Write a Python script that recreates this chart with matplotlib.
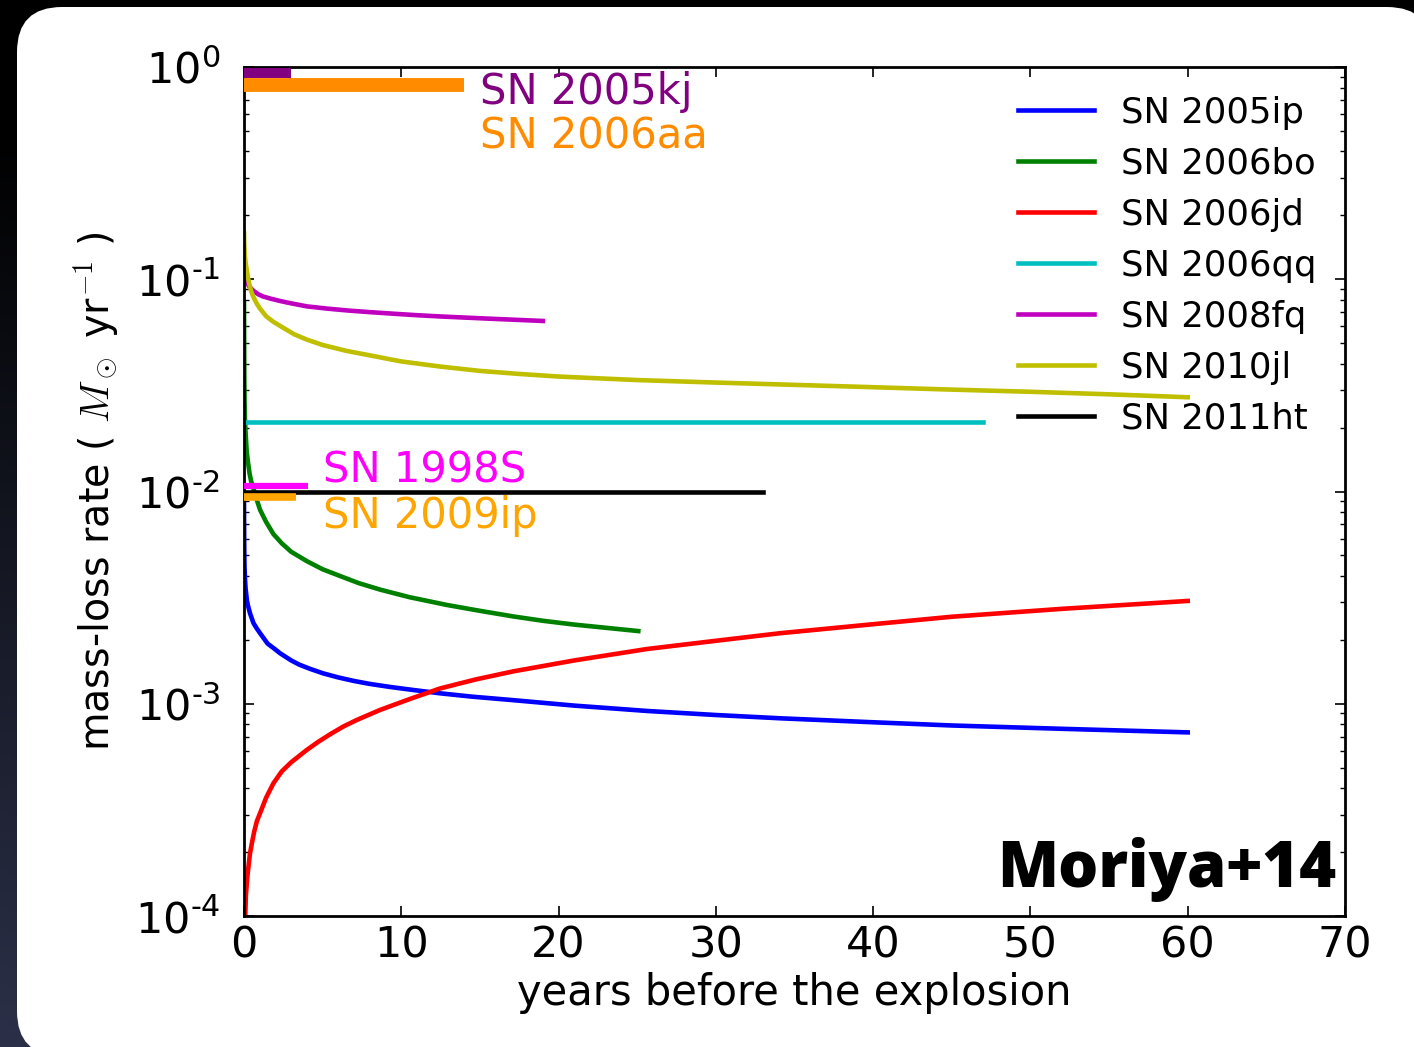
import numpy as np
import matplotlib
matplotlib.use('Agg')
import matplotlib.pyplot as plt
from matplotlib.patches import FancyBboxPatch
from matplotlib.transforms import IdentityTransform
from matplotlib.ticker import FuncFormatter, LogLocator, NullFormatter
from matplotlib.colors import LinearSegmentedColormap

plt.rcParams['font.family'] = ['DejaVu Sans']
plt.rcParams['axes.unicode_minus'] = False

# ---------------- data ----------------
ip05_t = [0.0, 0.01, 0.03, 0.06, 0.1, 0.2, 0.38, 0.6, 0.8, 1.02, 1.5, 2.0, 2.29, 3.0, 3.5, 4.2, 5.04, 6.0,
          7.0, 8.0, 9.28, 10.8, 12.46, 14.5, 17.1, 21, 25.6, 30, 34.1, 40, 45, 52, 60]
ip05_v = [0.0088, 0.006, 0.0045, 0.0039, 0.0035, 0.003, 0.00267, 0.0024, 0.00227, 0.00215, 0.00192, 0.0018,
          0.00173, 0.0016, 0.00153, 0.00146, 0.00139, 0.00133, 0.00128, 0.00124, 0.0012, 0.00116, 0.00112,
          0.00108, 0.00104, 0.00098, 0.000925, 0.000885, 0.000854, 0.000818, 0.00079, 0.000762, 0.000733]

bo06_t = [0.0, 0.01, 0.02, 0.04, 0.06, 0.1, 0.17, 0.25, 0.35, 0.45, 0.59, 0.8, 1.02, 1.4, 1.87, 2.4, 3.0,
          3.99, 5.0, 6.1, 7.3, 8.65, 10.5, 12.9, 15, 17.1, 19, 21, 23, 25.07]
bo06_v = [0.077, 0.05, 0.035, 0.026, 0.022, 0.019, 0.0155, 0.0138, 0.0122, 0.0112, 0.0104, 0.0092, 0.0082,
          0.0072, 0.0063, 0.0057, 0.0052, 0.0047, 0.0043, 0.004, 0.0037, 0.00345, 0.00318, 0.00292, 0.00274,
          0.00258, 0.00246, 0.00236, 0.00228, 0.0022]

jd06_t = [0.08, 0.12, 0.2, 0.28, 0.38, 0.5, 0.65, 0.82, 1.02, 1.4, 1.87, 2.4, 3.0, 3.98, 4.7, 5.5, 6.3,
          7.16, 8.65, 10.5, 12.46, 14.7, 17.1, 21, 25.6, 30, 34.1, 40, 45, 52, 60]
jd06_v = [1.0e-4, 0.000125, 0.00015, 0.00017, 0.000197, 0.00022, 0.00025, 0.00028, 0.000305, 0.00036,
          0.000422, 0.00048, 0.00053, 0.000605, 0.00066, 0.00072, 0.00078, 0.000838, 0.000935, 0.00105,
          0.00118, 0.0013, 0.00142, 0.0016, 0.00181, 0.00198, 0.00215, 0.00237, 0.00257, 0.0028, 0.00305]

qq06_t = [0.0, 47.0]
qq06_v = [0.0213, 0.0213]

fq08_t = [0.03, 0.08, 0.17, 0.3, 0.59, 0.9, 1.2, 1.7, 2.29, 3.0, 4.0, 5.3, 6.74, 8.0, 9.5, 11, 12.46, 14,
          16, 17.5, 19]
fq08_v = [0.107, 0.102, 0.0974, 0.093, 0.0883, 0.085, 0.083, 0.081, 0.079, 0.077, 0.0745, 0.0727, 0.0711,
          0.07, 0.0688, 0.0677, 0.0668, 0.066, 0.065, 0.0643, 0.0636]

jl10_t = [0.0, 0.02, 0.05, 0.1, 0.17, 0.25, 0.35, 0.45, 0.59, 0.8, 1.0, 1.4, 1.87, 2.5, 3.2, 3.98, 5.0, 6.5,
          8.2, 10, 12.46, 15, 17.5, 20, 25, 30, 35, 40, 45, 50, 55, 60]
jl10_v = [0.165, 0.145, 0.13, 0.12, 0.111, 0.102, 0.094, 0.088, 0.0827, 0.077, 0.073, 0.067, 0.063, 0.059,
          0.055, 0.052, 0.049, 0.046, 0.0435, 0.041, 0.0388, 0.037, 0.0358, 0.0348, 0.0335, 0.0326, 0.0318,
          0.031, 0.0302, 0.0295, 0.0287, 0.0278]

ht11_t = [0.0, 33.0]
ht11_v = [0.01, 0.01]

curve_labels = ['SN 2005ip', 'SN 2006bo', 'SN 2006jd', 'SN 2006qq', 'SN 2008fq', 'SN 2010jl', 'SN 2011ht']
curve_colors = ['b', 'g', 'r', 'c', 'm', 'y', 'k']
curve_t = [ip05_t, bo06_t, jd06_t, qq06_t, fq08_t, jl10_t, ht11_t]
curve_v = [ip05_v, bo06_v, jd06_v, qq06_v, fq08_v, jl10_v, ht11_v]

# bars: name, duration (years), mass-loss rate, colour, width
bar_names = ['SN 2005kj', 'SN 2006aa', 'SN 1998S', 'SN 2009ip']
bar_years = [3.0, 14.0, 4.08, 3.28]
bar_rates = [0.934, 0.82, 0.0106, 0.00945]
bar_colors = ['purple', 'darkorange', 'magenta', 'orange']
bar_widths = [7.2, 10.0, 4.5, 5.5]

# text label positions (x, baseline y) in data coords
label_pos = [(15.0, 0.67), (15.0, 0.411), (5.0, 0.011), (5.0, 0.00673)]

xticks = [0, 10, 20, 30, 40, 50, 60, 70]

# ---------------- figure ----------------
W, H = 1414, 1047
fig = plt.figure(figsize=(W / 100, H / 100), dpi=100)
fig.patch.set_facecolor('black')

bg = fig.add_axes([0, 0, 1, 1], zorder=-10)
yy, xx = np.mgrid[0:1:200j, 0:1:200j]
grad = np.clip((yy * 0.9 + (1 - xx) * 0.25) - 0.35, 0, None)
cmap = LinearSegmentedColormap.from_list('bgc', ['#000000', '#2b3048'])
bg.imshow(grad, extent=[0, 1, 0, 1], origin='upper', aspect='auto', cmap=cmap, vmin=0, vmax=0.8)
bg.set_xlim(0, 1); bg.set_ylim(0, 1)
bg.axis('off')

panel = FancyBboxPatch((17 + 45, -9 + 45), 1432 - 17 - 90, (H - 7) - (-9) - 90,
                       boxstyle='round,pad=45', transform=IdentityTransform(),
                       facecolor='white', edgecolor='none', zorder=-5)
fig.patches.append(panel)

ax = fig.add_axes([244 / W, (H - 916) / H, 1101 / W, 849 / H])
ax.set_yscale('log')
ax.set_xlim(0, 70)
ax.set_ylim(1e-4, 1)

for t, v, c, lab in zip(curve_t, curve_v, curve_colors, curve_labels):
    ax.plot(t, v, color=c, lw=3.3, label=lab)

for n, yrs, r, c, w in zip(bar_names, bar_years, bar_rates, bar_colors, bar_widths):
    ax.plot([0, yrs], [r, r], color=c, lw=w, solid_capstyle='butt', zorder=3)

for (x, y), n, c in zip(label_pos, bar_names, bar_colors):
    ax.text(x, y, n, color=c, fontsize=30, ha='left', va='baseline')

ax.set_xticks(xticks)
ax.yaxis.set_major_locator(LogLocator(base=10, numticks=10))
ax.yaxis.set_minor_locator(LogLocator(base=10, subs=np.arange(2, 10), numticks=20))
ax.yaxis.set_minor_formatter(NullFormatter())
ax.yaxis.set_major_formatter(FuncFormatter(
    lambda v, p: r'$\mathregular{10^{\text{-}%d}}$' % int(round(-np.log10(v))) if v < 0.99 else r'$\mathregular{10^{0}}$'))

ax.tick_params(which='both', direction='in', top=True, right=True)
ax.tick_params(which='major', length=7, width=1.2, labelsize=31)
ax.tick_params(axis='x', which='major', pad=6)
ax.tick_params(axis='y', which='major', pad=17)
ax.tick_params(which='minor', length=3.5, width=1)
for s in ax.spines.values():
    s.set_linewidth(2)

ax.set_xlabel('years before the explosion', fontsize=30, labelpad=4)
ax.set_ylabel(r'mass-loss rate ( $M_\odot$ yr$^{-1}$ )', fontsize=28.5, math_fontfamily='cm', labelpad=10)

leg = ax.legend(loc='upper left', bbox_to_anchor=(0.703, 0.966), frameon=False, fontsize=25.5,
                handlelength=2.15, handletextpad=0.76, labelspacing=0.48, borderpad=0, borderaxespad=0)

fig.text(1336 / W, (H - 887) / H, 'Moriya+14', ha='right', va='baseline',
         fontfamily='Open Sans', fontweight=800, fontsize=45.5)

fig.savefig('out.png', dpi=100, facecolor=fig.get_facecolor())
